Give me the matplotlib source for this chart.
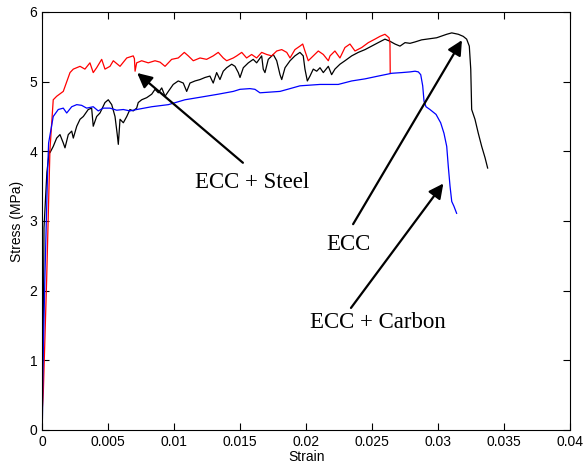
import matplotlib.pyplot as plt

# ECC + Steel (red)
steel_strain = [0.0, 0.00008, 0.00033, 0.00058, 0.00083, 0.00109, 0.00159, 0.0021, 0.00235,
                0.00286, 0.00323, 0.00361, 0.00386, 0.00412, 0.0045, 0.00475, 0.00513, 0.00538,
                0.00589, 0.0064, 0.00689, 0.00698, 0.00703, 0.00715, 0.00753, 0.00803, 0.00854,
                0.00892, 0.0093, 0.0098, 0.0103, 0.01076, 0.01106, 0.01144, 0.01195, 0.01245,
                0.01295, 0.01333, 0.01371, 0.01397, 0.01447, 0.01473, 0.01511, 0.01548, 0.01586,
                0.01624, 0.01662, 0.017, 0.01738, 0.01776, 0.01814, 0.01852, 0.01877, 0.01914,
                0.01952, 0.01973, 0.0199, 0.02015, 0.02053, 0.02091, 0.02129, 0.02167, 0.0218,
                0.02217, 0.02255, 0.02293, 0.02331, 0.02369, 0.0242, 0.0247, 0.0252, 0.02558,
                0.02596, 0.02627, 0.02634, 0.02636]
steel_stress = [0.3, 0.55, 2.15, 4.02, 4.74, 4.79, 4.86, 5.13, 5.18,
                5.22, 5.18, 5.27, 5.13, 5.2, 5.32, 5.18, 5.22, 5.3,
                5.22, 5.34, 5.37, 5.33, 5.15, 5.27, 5.3, 5.27, 5.3,
                5.28, 5.22, 5.32, 5.34, 5.42, 5.37, 5.3, 5.34, 5.32,
                5.37, 5.42, 5.34, 5.3, 5.34, 5.37, 5.42, 5.34, 5.39,
                5.34, 5.42, 5.39, 5.37, 5.44, 5.46, 5.42, 5.34, 5.46,
                5.51, 5.54, 5.44, 5.3, 5.37, 5.44, 5.39, 5.3, 5.37,
                5.44, 5.34, 5.49, 5.54, 5.44, 5.49, 5.56, 5.61, 5.65,
                5.68, 5.63, 5.55, 5.12]

# ECC (black)
ecc_strain = [0.0, 0.0001, 0.00013, 0.00035, 0.00053, 0.00058, 0.00083, 0.00109, 0.00134,
              0.00159, 0.00172, 0.00197, 0.00223, 0.00235, 0.00261, 0.00286, 0.00311, 0.00348,
              0.00374, 0.00386, 0.00412, 0.00437, 0.00475, 0.005, 0.00526, 0.00551, 0.00568,
              0.00576, 0.00589, 0.00614, 0.0064, 0.00664, 0.00689, 0.00715, 0.00727, 0.00753,
              0.00791, 0.00829, 0.00854, 0.00879, 0.00905, 0.0093, 0.00955, 0.00992, 0.0103,
              0.01068, 0.01094, 0.01119, 0.01157, 0.01195, 0.01233, 0.0127, 0.01295, 0.01321,
              0.01346, 0.01371, 0.01397, 0.01435, 0.0146, 0.01485, 0.01498, 0.01523, 0.01561,
              0.01598, 0.01624, 0.01662, 0.01674, 0.01687, 0.01712, 0.0175, 0.01776, 0.01801,
              0.01814, 0.01839, 0.01877, 0.01914, 0.01952, 0.01977, 0.0199, 0.02008, 0.02028,
              0.02053, 0.02079, 0.02104, 0.02129, 0.02167, 0.02192, 0.02217, 0.02255, 0.02293,
              0.02344, 0.02394, 0.02445, 0.02495, 0.02545, 0.02596, 0.02634, 0.02672, 0.0271,
              0.02748, 0.02786, 0.02824, 0.02874, 0.02988, 0.03064, 0.03102, 0.03152, 0.03189,
              0.03215, 0.03235, 0.03246, 0.03253, 0.03278, 0.03303, 0.03329, 0.03354, 0.03374]
ecc_stress = [0.0, 2.0, 2.9, 3.7, 4.0, 3.98, 4.07, 4.19, 4.24,
              4.12, 4.05, 4.24, 4.29, 4.19, 4.36, 4.46, 4.5, 4.6,
              4.62, 4.36, 4.5, 4.55, 4.7, 4.74, 4.67, 4.5, 4.24,
              4.1, 4.46, 4.41, 4.5, 4.6, 4.58, 4.62, 4.7, 4.74,
              4.77, 4.82, 4.89, 4.84, 4.91, 4.79, 4.86, 4.96, 5.01,
              4.98, 4.86, 4.98, 5.01, 5.03, 5.06, 5.08, 4.98, 5.13,
              5.03, 5.15, 5.2, 5.25, 5.22, 5.13, 5.06, 5.2, 5.27,
              5.32, 5.27, 5.37, 5.18, 5.13, 5.32, 5.39, 5.3, 5.1,
              5.03, 5.2, 5.3, 5.37, 5.42, 5.37, 5.18, 5.01, 5.08,
              5.18, 5.15, 5.2, 5.13, 5.22, 5.1, 5.18, 5.25, 5.3,
              5.37, 5.42, 5.46, 5.51, 5.56, 5.61, 5.58, 5.54, 5.51,
              5.56, 5.55, 5.57, 5.6, 5.63, 5.68, 5.7, 5.68, 5.65,
              5.61, 5.51, 5.18, 4.6, 4.46, 4.26, 4.07, 3.91, 3.76]

# ECC + Carbon (blue)
carbon_strain = [0.0, 0.00005, 0.0002, 0.0004, 0.00048, 0.00083, 0.00121, 0.00159, 0.00185,
                 0.00223, 0.00261, 0.00298, 0.00336, 0.00386, 0.00424, 0.00462, 0.00513, 0.00564,
                 0.00614, 0.00664, 0.00715, 0.00829, 0.00955, 0.01081, 0.01208, 0.01333, 0.01447,
                 0.01498, 0.01573, 0.01611, 0.01649, 0.01725, 0.01801, 0.01877, 0.01952, 0.02028,
                 0.02104, 0.02167, 0.02242, 0.02344, 0.02445, 0.02545, 0.02647, 0.02723, 0.02786,
                 0.02824, 0.02849, 0.02867, 0.02882, 0.02892, 0.02907, 0.02937, 0.02983, 0.03018,
                 0.03043, 0.03064, 0.03076, 0.03089, 0.03102, 0.03119, 0.03139]
carbon_stress = [0.0, 0.9, 2.2, 3.7, 4.12, 4.5, 4.6, 4.62, 4.55,
                 4.64, 4.67, 4.66, 4.62, 4.64, 4.58, 4.62, 4.62, 4.59,
                 4.6, 4.58, 4.6, 4.64, 4.67, 4.74, 4.78, 4.82, 4.86,
                 4.89, 4.9, 4.89, 4.84, 4.85, 4.86, 4.9, 4.94, 4.95,
                 4.96, 4.96, 4.96, 5.01, 5.04, 5.08, 5.12, 5.13, 5.14,
                 5.15, 5.14, 5.1, 4.94, 4.72, 4.64, 4.6, 4.53, 4.41,
                 4.26, 4.07, 3.78, 3.5, 3.28, 3.21, 3.11]

xticks = [0, 0.005, 0.01, 0.015, 0.02, 0.025, 0.03, 0.035, 0.04]
xtick_labels = ['0', '0.005', '0.01', '0.015', '0.02', '0.025', '0.03', '0.035', '0.04']
yticks = [0, 1, 2, 3, 4, 5, 6]

plt.rcParams['font.family'] = ['Liberation Sans', 'DejaVu Sans']

fig = plt.figure(figsize=(5.84, 4.68), dpi=100)
ax = fig.add_axes([0.0724, 0.0812, 0.9041, 0.8932])

ax.plot(ecc_strain, ecc_stress, color='black', lw=0.9)
ax.plot(steel_strain, steel_stress, color='red', lw=0.9)
ax.plot(carbon_strain, carbon_stress, color='blue', lw=0.9)

ax.set_xlim(0, 0.04)
ax.set_ylim(0, 6)
ax.set_xticks(xticks)
ax.set_xticklabels(xtick_labels)
ax.set_yticks(yticks)
ax.tick_params(direction='in', top=True, right=True, length=5, labelsize=10)
ax.set_xlabel('Strain', fontsize=10, labelpad=1)
ax.set_ylabel('Stress (MPa)', fontsize=10, labelpad=4)

# Annotations
arrow = dict(arrowstyle='-|>', color='black', lw=1.6, mutation_scale=22)
serif = dict(family='Liberation Serif', fontsize=16.5, ha='center', va='center')
ax.annotate('', xy=(0.00703, 5.15), xytext=(0.01536, 3.81), arrowprops=arrow)
ax.text(0.01589, 3.55, 'ECC + Steel', **serif)
ax.annotate('', xy=(0.0319, 5.63), xytext=(0.02344, 2.92), arrowprops=arrow)
ax.text(0.0232, 2.66, 'ECC', **serif)
ax.annotate('', xy=(0.03051, 3.57), xytext=(0.02326, 1.72), arrowprops=arrow)
ax.text(0.02543, 1.55, 'ECC + Carbon', **serif)

fig.savefig('out.png', dpi=100)
